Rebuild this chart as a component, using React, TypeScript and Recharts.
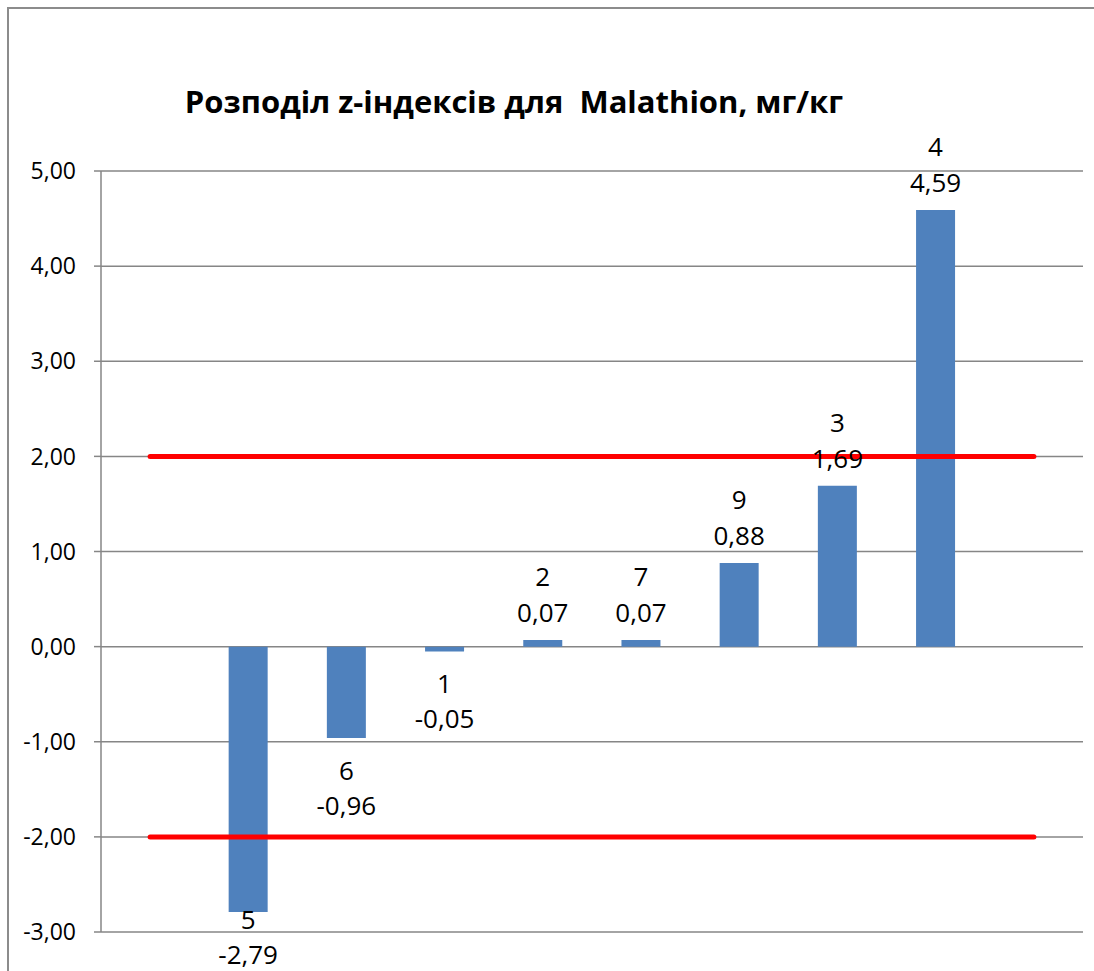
import {
  Bar,
  CartesianGrid,
  ComposedChart,
  LabelList,
  Line,
  XAxis,
  YAxis,
} from "recharts";

// sample numbers on the category axis (empty slots at both ends, like the source sheet)
const samples = ["", "5", "6", "1", "2", "7", "9", "3", "4", ""];
const zScores: (number | null)[] = [null, -2.79, -0.96, -0.05, 0.07, 0.07, 0.88, 1.69, 4.59, null];
const upperLimit = [2, 2, 2, 2, 2, 2, 2, 2, 2, 2];
const lowerLimit = [-2, -2, -2, -2, -2, -2, -2, -2, -2, -2];
const yTicks = [-3, -2, -1, 0, 1, 2, 3, 4, 5];

const title = "Розподіл z-індексів для  Malathion, мг/кг";

const W = 1094;
const H = 971;
const FONT = "'Open Sans', 'Noto Sans', sans-serif";
const GRID = "#868686";

const fmt = (v: number) => v.toFixed(2).replace(".", ",");

const data = samples.map((name, i) => ({
  name,
  z: zScores[i],
  upper: upperLimit[i],
  lower: lowerLimit[i],
}));

// label text = "sample|value", split back apart in the renderer
const labelKey = (d: any) => `${d.name}|${d.z}`;

function BarLabel(props: any) {
  const vb = props.viewBox ?? props;
  const x = Number(vb.x ?? props.x);
  const y = Number(vb.y ?? props.y);
  const w = Number(vb.width ?? props.width);
  const h = Number(vb.height ?? props.height);
  if (props.value == null || Number.isNaN(x)) return null;
  const [name, raw] = String(props.value).split("|");
  const value = Number(raw);
  if (Number.isNaN(value)) return null;
  const cx = x + w / 2;
  const top = Math.min(y, y + h);
  const bottom = Math.max(y, y + h);
  let nameY: number;
  let valueY: number;
  if (value >= 0) {
    valueY = top - 28;
    nameY = top - 64;
  } else {
    nameY = bottom + 32;
    valueY = bottom + 67;
    // keep the block inside the chart area, as Excel does
    const shift = Math.max(0, valueY - (H - 17));
    nameY -= shift;
    valueY -= shift;
  }
  return (
    <g>
      <text x={cx} y={nameY} textAnchor="middle" dominantBaseline="central" fontFamily={FONT} fontSize={26} fill="#000">
        {name}
      </text>
      <text x={cx} y={valueY} textAnchor="middle" dominantBaseline="central" fontFamily={FONT} fontSize={26} fill="#000">
        {fmt(value)}
      </text>
    </g>
  );
}

export default function App() {
  return (
    <div
      style={{
        position: "fixed",
        left: 0,
        top: 0,
        width: W,
        height: H,
        overflow: "hidden",
        background: "#fff",
      }}
    >
      <div
        style={{
          position: "absolute",
          left: 7,
          top: 7,
          width: W + 20,
          height: H + 20,
          borderLeft: "2px solid #8c8c8c",
          borderTop: "2px solid #8c8c8c",
        }}
      />
      <div style={{ position: "absolute", left: 0, top: 0 }}>
        <ComposedChart
          width={W}
          height={H}
          data={data}
          margin={{ top: 171, right: 11, bottom: 39, left: 0 }}
          barCategoryGap="30%"
        >
          <text
            x={514}
            y={113}
            textAnchor="middle"
            fontFamily={FONT}
            fontWeight="bold"
            fontSize={31}
            fill="#000"
            style={{ whiteSpace: "pre" }}
          >
            {title}
          </text>
          <CartesianGrid vertical={false} stroke={GRID} strokeWidth={1.5} />
          <XAxis dataKey="name" hide />
          <YAxis
            width={101}
            domain={[-3, 5]}
            ticks={yTicks}
            interval={0}
            tickFormatter={(v) => fmt(Number(v))}
            axisLine={{ stroke: GRID, strokeWidth: 1.5 }}
            tickLine={{ stroke: GRID, strokeWidth: 1.5 }}
            tickSize={7}
            tickMargin={18}
            tick={{ fill: "#000", fontSize: 23, fontFamily: FONT }}
          />
          <Bar dataKey="z" fill="#4F81BD" isAnimationActive={false}>
            <LabelList dataKey={labelKey} content={BarLabel} />
          </Bar>
          <Line
            dataKey="upper"
            type="linear"
            stroke="#FF0000"
            strokeWidth={5}
            strokeLinecap="round"
            dot={false}
            activeDot={false}
            isAnimationActive={false}
          />
          <Line
            dataKey="lower"
            type="linear"
            stroke="#FF0000"
            strokeWidth={5}
            strokeLinecap="round"
            dot={false}
            activeDot={false}
            isAnimationActive={false}
          />
        </ComposedChart>
      </div>
    </div>
  );
}
